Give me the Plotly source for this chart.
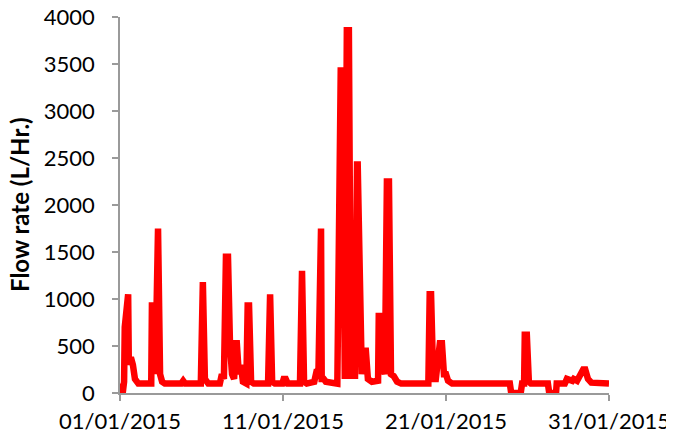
import pandas as pd
import plotly.graph_objects as go

# Hours since 01/01/2015 00:00 and flow rate (L/Hr.)
hours = [0, 1, 4, 6, 7, 10, 12, 13, 16, 19, 22, 27, 46, 47, 50, 52, 54, 56, 59, 62, 66,
         90, 93, 96, 119, 121, 122, 125, 130, 147, 150, 153, 156, 159, 160, 162, 165,
         168, 171, 172, 175, 178, 181, 186, 188, 190, 193, 197, 218, 219, 221, 224, 228,
         239, 241, 244, 247, 265, 267, 268, 271, 275, 286, 290, 292, 294, 296, 297, 300,
         303, 308, 320, 325, 328, 331, 334, 337, 340, 343, 346, 349, 350, 353, 355, 356,
         359, 362, 365, 371, 380, 381, 384, 387, 390, 393, 396, 399, 403, 408, 414, 454,
         456, 458, 461, 462, 465, 471, 474, 477, 480, 483, 489, 574, 576, 590, 592, 595,
         596, 599, 602, 605, 630, 632, 642, 643, 655, 658, 666, 668, 673, 677, 682, 685,
         689, 694, 720]
flow = [100, 0, 0, 120, 700, 1050, 1050, 300, 380, 300, 150, 100, 100, 930, 930, 200, 1750,
        1750, 200, 120, 100, 100, 130, 100, 100, 1180, 1180, 150, 100, 100, 200, 150, 1450,
        1450, 900, 500, 200, 150, 530, 530, 200, 300, 120, 100, 930, 930, 120, 100, 100,
        1050, 1050, 120, 100, 100, 150, 150, 100, 100, 1300, 1300, 120, 100, 120, 250, 150,
        1750, 1750, 150, 150, 120, 110, 100, 3430, 3430, 150, 3860, 3860, 150, 550, 150,
        2430, 2430, 1300, 500, 200, 450, 450, 150, 120, 130, 820, 820, 300, 200, 2250, 2250,
        200, 180, 120, 100, 100, 1050, 1050, 200, 150, 150, 530, 530, 200, 200, 130, 100,
        100, 0, 0, 100, 100, 620, 620, 120, 100, 100, 0, 0, 100, 100, 150, 130, 150, 130,
        180, 250, 250, 150, 110, 100]

tick_dates = ["2015-01-01", "2015-01-11", "2015-01-21", "2015-01-31"]
tick_labels = ["01/01/2015", "11/01/2015", "21/01/2015", "31/01/2015"]
y_ticks = [0, 500, 1000, 1500, 2000, 2500, 3000, 3500, 4000]
y_title = "Flow rate (L/Hr.)"

start = pd.Timestamp("2015-01-01 00:00")
times = [start + pd.Timedelta(hours=h) for h in hours]

fig = go.Figure()
fig.add_trace(go.Scatter(x=times, y=flow, mode="lines",
                         line=dict(color="#FF0000", width=6.5), showlegend=False))

font = dict(family="Lato, Carlito, Arial", size=22, color="#000000")
tfont = dict(family="Lato, Carlito, Arial", size=24, color="#000000")

# page body has an 8px margin, so the figure is sized to the remaining area
fig.update_layout(
    width=666, height=436,
    margin=dict(l=112, r=65, t=9, b=51),
    paper_bgcolor="white", plot_bgcolor="white",
    font=font,
    xaxis=dict(
        type="date", range=[tick_dates[0], tick_dates[-1]],
        tickvals=tick_dates, ticktext=tick_labels,
        showgrid=False, zeroline=False, automargin=False,
        showline=True, linecolor="#9a9a9a", linewidth=1.5,
        ticks="outside", ticklen=6, tickcolor="#9a9a9a", tickwidth=1.5,
        ticklabelstandoff=2, ticklabeloverflow="allow",
        tickfont=font,
    ),
    yaxis=dict(
        range=[0, 4000], tickvals=y_ticks,
        showgrid=False, zeroline=False, automargin=False,
        showline=True, linecolor="#9a9a9a", linewidth=1.5,
        ticks="outside", ticklen=6, tickcolor="#9a9a9a", tickwidth=1.5,
        ticklabelstandoff=13, ticklabeloverflow="allow",
        tickfont=font,
    ),
    annotations=[
        dict(text="<b>" + y_title + "</b>", xref="paper", yref="paper",
             x=-0.2045, y=0.5027, xanchor="center", yanchor="middle",
             textangle=-90, showarrow=False, font=tfont),
        dict(text="<b>" + y_title + "</b>", xref="paper", yref="paper",
             x=1.141, y=0.49, xanchor="center", yanchor="middle",
             textangle=-90, showarrow=False, font=tfont),
    ],
)

fig.write_html("out.html")
